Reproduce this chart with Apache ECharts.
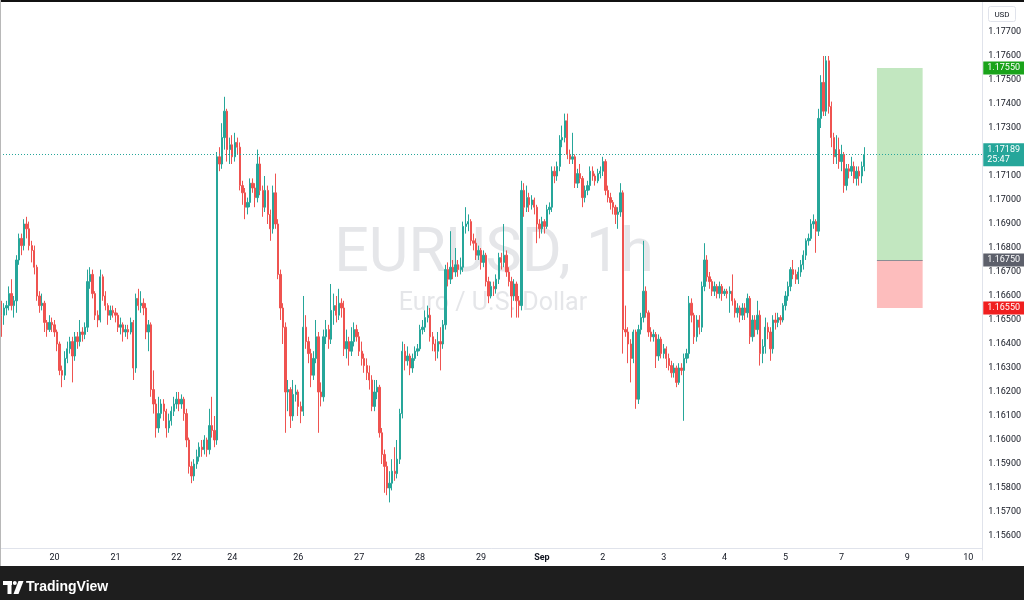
<!DOCTYPE html>
<html><head><meta charset="utf-8">
<script src="https://cdn.jsdelivr.net/npm/echarts@6/dist/echarts.min.js"></script>
<style>html,body{margin:0;padding:0;background:#fff;overflow:hidden}#c{width:1024px;height:600px}</style>
</head><body><div id="c"></div>
<script>
// Trading sessions: [day, first hour, last hour] (1h bars)
const sessions = [
  ['Aug 19',3,23],['Aug 20',0,23],['Aug 21',0,23],['Aug 22',0,21],['Aug 24',22,23],
  ['Aug 25',0,23],['Aug 26',0,23],['Aug 27',0,23],['Aug 28',0,23],['Aug 29',0,21],
  ['Aug 31',22,23],['Sep 1',0,23],['Sep 2',0,23],['Sep 3',0,23],['Sep 4',0,23],
  ['Sep 5',0,21],['Sep 7',22,23],['Sep 8',0,23],['Sep 9',0,23],['Sep 10',0,5]
];
const tickLabels = {'Aug 20':'20','Aug 21':'21','Aug 22':'22','Aug 24':'24','Aug 26':'26','Aug 27':'27',
  'Aug 28':'28','Aug 29':'29','Sep 1':'Sep','Sep 2':'2','Sep 3':'3','Sep 4':'4','Sep 5':'5','Sep 7':'7','Sep 9':'9','Sep 10':'10'};

// OHLC per day: [open, close, low, high]
const aug19 = [[1.1655,1.1652,1.1643,1.1658],[1.1652,1.1655,1.1648,1.1657],[1.1655,1.1656,1.1652,1.1658],[1.1656,1.1661,1.1654,1.1664],[1.1661,1.1656,1.1654,1.1667],[1.1656,1.1658,1.1651,1.1660],[1.1658,1.1675,1.1653,1.1677],[1.1675,1.1684,1.1673,1.1686],[1.1684,1.1681,1.1677,1.1686],[1.1681,1.1690,1.1679,1.1692],[1.1690,1.1688,1.1684,1.1693],[1.1688,1.1681,1.1679,1.1691],[1.1681,1.1679,1.1674,1.1683],[1.1679,1.1672,1.1669,1.1681],[1.1672,1.1660,1.1658,1.1673],[1.1660,1.1656,1.1653,1.1662],[1.1656,1.1657,1.1654,1.1661],[1.1657,1.1649,1.1645,1.1658],[1.1649,1.1646,1.1643,1.1650],[1.1646,1.1649,1.1645,1.1652],[1.1649,1.1648,1.1645,1.1651]];
const aug20 = [[1.1648,1.1645,1.1643,1.1650],[1.1645,1.1640,1.1637,1.1646],[1.1640,1.1629,1.1627,1.1641],[1.1629,1.1627,1.1622,1.1631],[1.1627,1.1634,1.1625,1.1637],[1.1634,1.1638,1.1632,1.1641],[1.1638,1.1641,1.1636,1.1643],[1.1641,1.1635,1.1624,1.1643],[1.1635,1.1643,1.1633,1.1645],[1.1643,1.1641,1.1638,1.1645],[1.1641,1.1645,1.1639,1.1650],[1.1645,1.1644,1.1641,1.1647],[1.1644,1.1647,1.1642,1.1649],[1.1647,1.1666,1.1645,1.1671],[1.1666,1.1669,1.1663,1.1672],[1.1669,1.1661,1.1659,1.1671],[1.1661,1.1652,1.1650,1.1662],[1.1652,1.1650,1.1647,1.1654],[1.1650,1.1668,1.1649,1.1671],[1.1668,1.1660,1.1658,1.1669],[1.1660,1.1656,1.1654,1.1662],[1.1656,1.1652,1.1648,1.1657],[1.1652,1.1654,1.1650,1.1656],[1.1654,1.1653,1.1651,1.1656]];
const aug21 = [[1.1653,1.1652,1.1649,1.1655],[1.1652,1.1647,1.1645,1.1653],[1.1647,1.1648,1.1644,1.1651],[1.1648,1.1645,1.1641,1.1649],[1.1645,1.1646,1.1643,1.1648],[1.1646,1.1645,1.1642,1.1648],[1.1645,1.1649,1.1644,1.1651],[1.1649,1.1630,1.1625,1.1650],[1.1630,1.1659,1.1628,1.1661],[1.1659,1.1656,1.1654,1.1663],[1.1656,1.1657,1.1653,1.1662],[1.1657,1.1655,1.1652,1.1659],[1.1655,1.1645,1.1642,1.1657],[1.1645,1.1648,1.1637,1.1650],[1.1648,1.1621,1.1618,1.1649],[1.1621,1.1615,1.1611,1.1629],[1.1615,1.1605,1.1601,1.1617],[1.1605,1.1611,1.1603,1.1618],[1.1611,1.1615,1.1609,1.1617],[1.1615,1.1612,1.1608,1.1617],[1.1612,1.1605,1.1601,1.1613],[1.1605,1.1608,1.1603,1.1611],[1.1608,1.1612,1.1606,1.1614],[1.1612,1.1615,1.1610,1.1618]];
const aug22 = [[1.1615,1.1617,1.1613,1.1620],[1.1617,1.1615,1.1612,1.1620],[1.1615,1.1617,1.1613,1.1619],[1.1617,1.1611,1.1608,1.1618],[1.1611,1.1600,1.1597,1.1613],[1.1600,1.1589,1.1586,1.1601],[1.1589,1.1585,1.1582,1.1591],[1.1585,1.1590,1.1583,1.1592],[1.1590,1.1593,1.1588,1.1596],[1.1593,1.1597,1.1591,1.1599],[1.1597,1.1596,1.1593,1.1600],[1.1596,1.1600,1.1594,1.1602],[1.1600,1.1596,1.1593,1.1601],[1.1596,1.1606,1.1594,1.1613],[1.1606,1.1604,1.1601,1.1618],[1.1604,1.1600,1.1597,1.1610],[1.1600,1.1718,1.1598,1.1720],[1.1718,1.1715,1.1712,1.1722],[1.1715,1.1726,1.1713,1.1732],[1.1726,1.1737,1.1721,1.1743],[1.1737,1.1721,1.1716,1.1738],[1.1721,1.1723,1.1715,1.1726]];
const aug24 = [[1.1723,1.1718,1.1715,1.1727],[1.1718,1.1724,1.1716,1.1728]];
const aug25 = [[1.1724,1.1722,1.1719,1.1726],[1.1722,1.1706,1.1704,1.1724],[1.1706,1.1703,1.1698,1.1708],[1.1703,1.1697,1.1692,1.1705],[1.1697,1.1699,1.1694,1.1701],[1.1699,1.1707,1.1697,1.1709],[1.1707,1.1705,1.1703,1.1709],[1.1705,1.1701,1.1697,1.1707],[1.1701,1.1715,1.1699,1.1721],[1.1715,1.1704,1.1702,1.1718],[1.1704,1.1697,1.1693,1.1706],[1.1697,1.1704,1.1695,1.1710],[1.1704,1.1694,1.1690,1.1706],[1.1694,1.1688,1.1683,1.1696],[1.1688,1.1703,1.1686,1.1706],[1.1703,1.1690,1.1688,1.1711],[1.1690,1.1669,1.1667,1.1692],[1.1669,1.1655,1.1650,1.1671],[1.1655,1.1647,1.1640,1.1657],[1.1647,1.1620,1.1603,1.1649],[1.1620,1.1621,1.1612,1.1625],[1.1621,1.1610,1.1605,1.1622],[1.1610,1.1619,1.1608,1.1625],[1.1619,1.1620,1.1616,1.1623]];
const aug26 = [[1.1620,1.1614,1.1610,1.1621],[1.1614,1.1612,1.1607,1.1616],[1.1612,1.1647,1.1610,1.1660],[1.1647,1.1641,1.1638,1.1652],[1.1641,1.1636,1.1632,1.1643],[1.1636,1.1627,1.1622,1.1638],[1.1627,1.1634,1.1625,1.1637],[1.1634,1.1643,1.1632,1.1650],[1.1643,1.1620,1.1603,1.1645],[1.1620,1.1618,1.1614,1.1624],[1.1618,1.1643,1.1616,1.1646],[1.1643,1.1646,1.1640,1.1650],[1.1646,1.1642,1.1638,1.1648],[1.1642,1.1654,1.1640,1.1665],[1.1654,1.1656,1.1648,1.1661],[1.1656,1.1652,1.1649,1.1660],[1.1652,1.1657,1.1650,1.1663],[1.1657,1.1655,1.1651,1.1659],[1.1655,1.1638,1.1635,1.1658],[1.1638,1.1641,1.1634,1.1646],[1.1641,1.1637,1.1631,1.1643],[1.1637,1.1641,1.1635,1.1647],[1.1641,1.1646,1.1639,1.1649],[1.1646,1.1643,1.1641,1.1648]];
const aug27 = [[1.1643,1.1637,1.1635,1.1645],[1.1637,1.1634,1.1631,1.1641],[1.1634,1.1631,1.1628,1.1636],[1.1631,1.1628,1.1625,1.1634],[1.1628,1.1625,1.1621,1.1631],[1.1625,1.1614,1.1612,1.1627],[1.1614,1.1620,1.1612,1.1625],[1.1620,1.1622,1.1617,1.1625],[1.1622,1.1603,1.1601,1.1623],[1.1603,1.1594,1.1590,1.1605],[1.1594,1.1589,1.1578,1.1596],[1.1589,1.1580,1.1577,1.1591],[1.1580,1.1582,1.1574,1.1587],[1.1582,1.1587,1.1579,1.1592],[1.1587,1.1586,1.1583,1.1597],[1.1586,1.1592,1.1584,1.1600],[1.1592,1.1611,1.1590,1.1613],[1.1611,1.1637,1.1609,1.1641],[1.1637,1.1633,1.1629,1.1640],[1.1633,1.1635,1.1631,1.1639],[1.1635,1.1630,1.1627,1.1636],[1.1630,1.1634,1.1628,1.1636],[1.1634,1.1637,1.1633,1.1639],[1.1637,1.1638,1.1635,1.1640]];
const aug28 = [[1.1638,1.1646,1.1637,1.1648],[1.1646,1.1647,1.1644,1.1650],[1.1647,1.1651,1.1645,1.1654],[1.1651,1.1652,1.1649,1.1656],[1.1652,1.1643,1.1641,1.1655],[1.1643,1.1640,1.1637,1.1645],[1.1640,1.1637,1.1633,1.1642],[1.1637,1.1641,1.1634,1.1645],[1.1641,1.1640,1.1629,1.1647],[1.1640,1.1648,1.1638,1.1650],[1.1648,1.1671,1.1646,1.1673],[1.1671,1.1667,1.1664,1.1674],[1.1667,1.1672,1.1665,1.1687],[1.1672,1.1670,1.1667,1.1675],[1.1670,1.1673,1.1668,1.1680],[1.1673,1.1671,1.1668,1.1675],[1.1671,1.1672,1.1669,1.1676],[1.1672,1.1689,1.1670,1.1691],[1.1689,1.1690,1.1686,1.1697],[1.1690,1.1691,1.1687,1.1694],[1.1691,1.1683,1.1681,1.1692],[1.1683,1.1682,1.1679,1.1686],[1.1682,1.1677,1.1675,1.1684],[1.1677,1.1679,1.1675,1.1681]];
const aug29 = [[1.1679,1.1674,1.1671,1.1680],[1.1674,1.1677,1.1672,1.1679],[1.1677,1.1666,1.1664,1.1678],[1.1666,1.1660,1.1657,1.1668],[1.1660,1.1664,1.1659,1.1666],[1.1664,1.1663,1.1660,1.1666],[1.1663,1.1667,1.1661,1.1669],[1.1667,1.1676,1.1665,1.1678],[1.1676,1.1674,1.1671,1.1678],[1.1674,1.1677,1.1672,1.1690],[1.1677,1.1670,1.1668,1.1679],[1.1670,1.1666,1.1664,1.1672],[1.1666,1.1660,1.1651,1.1668],[1.1660,1.1665,1.1658,1.1667],[1.1665,1.1658,1.1651,1.1666],[1.1658,1.1656,1.1651,1.1660],[1.1656,1.1704,1.1654,1.1708],[1.1704,1.1697,1.1693,1.1707],[1.1697,1.1701,1.1695,1.1706],[1.1701,1.1698,1.1695,1.1703],[1.1698,1.1700,1.1696,1.1702],[1.1700,1.1697,1.1694,1.1701]];
const aug31 = [[1.1697,1.1690,1.1682,1.1698],[1.1690,1.1688,1.1684,1.1692]];
const sep1 = [[1.1688,1.1691,1.1686,1.1693],[1.1691,1.1689,1.1686,1.1692],[1.1689,1.1696,1.1688,1.1698],[1.1696,1.1697,1.1694,1.1699],[1.1697,1.1712,1.1695,1.1714],[1.1712,1.1710,1.1707,1.1714],[1.1710,1.1714,1.1708,1.1716],[1.1714,1.1725,1.1712,1.1727],[1.1725,1.1726,1.1722,1.1731],[1.1726,1.1733,1.1724,1.1736],[1.1733,1.1719,1.1717,1.1736],[1.1719,1.1717,1.1715,1.1721],[1.1717,1.1718,1.1715,1.1728],[1.1718,1.1707,1.1705,1.1719],[1.1707,1.1711,1.1705,1.1713],[1.1711,1.1709,1.1707,1.1715],[1.1709,1.1701,1.1697,1.1710],[1.1701,1.1704,1.1699,1.1706],[1.1704,1.1706,1.1702,1.1708],[1.1706,1.1712,1.1704,1.1714],[1.1712,1.1710,1.1708,1.1714],[1.1710,1.1708,1.1706,1.1711],[1.1708,1.1711,1.1707,1.1713],[1.1711,1.1712,1.1709,1.1714]];
const sep2 = [[1.1712,1.1716,1.1710,1.1718],[1.1716,1.1704,1.1702,1.1717],[1.1704,1.1701,1.1699,1.1706],[1.1701,1.1699,1.1696,1.1703],[1.1699,1.1697,1.1694,1.1700],[1.1697,1.1694,1.1690,1.1698],[1.1694,1.1695,1.1688,1.1697],[1.1695,1.1703,1.1693,1.1707],[1.1703,1.1646,1.1636,1.1704],[1.1646,1.1645,1.1643,1.1656],[1.1645,1.1640,1.1632,1.1647],[1.1640,1.1634,1.1624,1.1642],[1.1634,1.1645,1.1632,1.1646],[1.1645,1.1617,1.1613,1.1646],[1.1617,1.1646,1.1615,1.1648],[1.1646,1.1651,1.1644,1.1653],[1.1651,1.1662,1.1649,1.1683],[1.1662,1.1653,1.1651,1.1664],[1.1653,1.1645,1.1643,1.1654],[1.1645,1.1643,1.1641,1.1647],[1.1643,1.1644,1.1641,1.1646],[1.1644,1.1635,1.1630,1.1645],[1.1635,1.1642,1.1633,1.1644],[1.1642,1.1636,1.1634,1.1643]];
const sep3 = [[1.1636,1.1638,1.1634,1.1640],[1.1638,1.1634,1.1630,1.1639],[1.1634,1.1631,1.1629,1.1636],[1.1631,1.1628,1.1626,1.1633],[1.1628,1.1630,1.1626,1.1632],[1.1630,1.1624,1.1622,1.1631],[1.1624,1.1630,1.1623,1.1632],[1.1630,1.1629,1.1627,1.1632],[1.1629,1.1634,1.1608,1.1636],[1.1634,1.1636,1.1632,1.1638],[1.1636,1.1657,1.1634,1.1660],[1.1657,1.1652,1.1649,1.1659],[1.1652,1.1643,1.1640,1.1653],[1.1643,1.1650,1.1641,1.1652],[1.1650,1.1647,1.1644,1.1652],[1.1647,1.1664,1.1645,1.1666],[1.1664,1.1675,1.1662,1.1682],[1.1675,1.1668,1.1666,1.1677],[1.1668,1.1666,1.1663,1.1670],[1.1666,1.1662,1.1660,1.1667],[1.1662,1.1664,1.1660,1.1666],[1.1664,1.1661,1.1659,1.1665],[1.1661,1.1664,1.1659,1.1666],[1.1664,1.1661,1.1658,1.1665]];
const sep4 = [[1.1661,1.1662,1.1660,1.1663],[1.1662,1.1661,1.1659,1.1663],[1.1661,1.1662,1.1653,1.1664],[1.1662,1.1658,1.1656,1.1669],[1.1658,1.1653,1.1651,1.1659],[1.1653,1.1655,1.1651,1.1657],[1.1655,1.1652,1.1649,1.1656],[1.1652,1.1655,1.1650,1.1657],[1.1655,1.1653,1.1650,1.1657],[1.1653,1.1659,1.1651,1.1661],[1.1659,1.1643,1.1640,1.1660],[1.1643,1.1650,1.1641,1.1652],[1.1650,1.1646,1.1643,1.1652],[1.1646,1.1652,1.1644,1.1658],[1.1652,1.1636,1.1631,1.1654],[1.1636,1.1639,1.1632,1.1642],[1.1639,1.1647,1.1636,1.1651],[1.1647,1.1645,1.1642,1.1649],[1.1645,1.1638,1.1633,1.1647],[1.1638,1.1650,1.1636,1.1652],[1.1650,1.1649,1.1646,1.1653],[1.1649,1.1651,1.1647,1.1653],[1.1651,1.1650,1.1648,1.1652],[1.1650,1.1656,1.1649,1.1657]];
const sep5 = [[1.1656,1.1660,1.1654,1.1662],[1.1660,1.1664,1.1658,1.1666],[1.1664,1.1671,1.1662,1.1672],[1.1671,1.1669,1.1667,1.1675],[1.1669,1.1667,1.1665,1.1671],[1.1667,1.1670,1.1665,1.1672],[1.1670,1.1673,1.1668,1.1675],[1.1673,1.1677,1.1671,1.1679],[1.1677,1.1683,1.1675,1.1684],[1.1683,1.1684,1.1681,1.1686],[1.1684,1.1690,1.1683,1.1692],[1.1690,1.1691,1.1688,1.1694],[1.1691,1.1687,1.1678,1.1692],[1.1687,1.1734,1.1685,1.1738],[1.1734,1.1749,1.1730,1.1752],[1.1749,1.1737,1.1735,1.1760],[1.1737,1.1758,1.1735,1.1760],[1.1758,1.1739,1.1736,1.1760],[1.1739,1.1726,1.1722,1.1741],[1.1726,1.1718,1.1715,1.1728],[1.1718,1.1721,1.1715,1.1727],[1.1721,1.1716,1.1713,1.1726]];
const sep7 = [[1.1716,1.1719,1.1712,1.1723],[1.1719,1.1706,1.1703,1.1720]];
const sep8 = [[1.1706,1.1713,1.1704,1.1715],[1.1713,1.1712,1.1709,1.1715],[1.1712,1.1714,1.1710,1.1718],[1.1714,1.1709,1.1707,1.1716],[1.1709,1.1712,1.1706,1.1714],[1.1712,1.1710,1.1706,1.1714],[1.1710,1.1714,1.1707,1.1716],[1.1714,1.17189,1.1712,1.1722]];

// Position tool & price tags
const lastPrice = 1.17189;
const countdown = '25:47';
const entryPrice = 1.1675;
const targetPrice = 1.1755;
const stopPrice = 1.1655;
const positionFrom = 'Sep 8 12:00';
const positionTo = 'Sep 9 06:00';
// price axis range and step
const priceMin = 1.155;
const priceMax = 1.1783333;
const priceStep = 0.001;

const categories = [];
const firstBarDay = {};
sessions.forEach(([d, h0, h1]) => {
  for (let h = h0; h <= h1; h++) {
    if (h === h0) firstBarDay[categories.length] = d;
    categories.push(d + ' ' + String(h).padStart(2, '0') + ':00');
  }
});
const candles = [].concat(aug19, aug20, aug21, aug22, aug24, aug25, aug26, aug27, aug28, aug29, aug31, sep1, sep2, sep3, sep4, sep5, sep7, sep8);

const FONT = 'Roboto, "Liberation Sans", sans-serif';
const tag = (bg) => ({show: true, position: 'end', distance: 1, backgroundColor: bg, color: '#fff',
  fontSize: 9, fontFamily: FONT, padding: [2, 4, 1, 4], lineHeight: 10,
  formatter: p => Number(p.value).toFixed(5)});

const chart = echarts.init(document.getElementById('c'), null, {renderer: 'canvas'});
chart.setOption({
  animation: false,
  backgroundColor: '#ffffff',
  grid: {left: 0, right: 40, top: 0, bottom: 40},
  xAxis: {
    type: 'category', data: categories, boundaryGap: true, offset: -12,
    axisLine: {show: true, lineStyle: {color: '#e0e3eb'}},
    axisTick: {show: false}, splitLine: {show: false},
    axisLabel: {
      interval: (i) => firstBarDay[i] !== undefined && tickLabels[firstBarDay[i]] !== undefined,
      formatter: (v) => { const d = v.slice(0, v.lastIndexOf(' ')); const t = tickLabels[d] || ''; return t === 'Sep' ? '{b|Sep}' : t; },
      color: '#131722', fontSize: 9, fontFamily: FONT, margin: 5,
      rich: {b: {fontWeight: 'bold', fontSize: 9, color: '#131722', fontFamily: FONT}}
    }
  },
  yAxis: {
    type: 'value', position: 'right', min: priceMin, max: priceMax, interval: priceStep,
    axisLine: {show: true, lineStyle: {color: '#e0e3eb'}},
    axisTick: {show: false}, splitLine: {show: false},
    axisLabel: {color: '#131722', fontSize: 9, fontFamily: FONT, margin: 6, showMaxLabel: false,
      formatter: v => (v > 1.1555 && v < 1.1775) ? v.toFixed(5) : ''}
  },
  series: [{
    type: 'candlestick', data: candles, barWidth: '72%',
    itemStyle: {color: '#26a69a', color0: '#ef5350', borderColor: '#26a69a', borderColor0: '#ef5350', borderWidth: 1},
    markArea: {silent: true, data: [
      [{xAxis: positionFrom, yAxis: entryPrice, itemStyle: {color: '#c2e7c0'}}, {xAxis: positionTo, yAxis: targetPrice}],
      [{xAxis: positionFrom, yAxis: stopPrice, itemStyle: {color: '#fdbdbd'}}, {xAxis: positionTo, yAxis: entryPrice}]
    ]},
    markLine: {silent: true, precision: 5, symbol: ['none', 'none'], animation: false, data: [
      [{coord: [positionFrom, entryPrice], lineStyle: {color: '#8a8d94', width: 1, type: 'solid'}, label: {show: false}},
       {coord: [positionTo, entryPrice]}],
      {yAxis: targetPrice, lineStyle: {color: 'rgba(0,0,0,0)', width: 0}, label: tag('#1aa31a')},
      {yAxis: entryPrice, lineStyle: {color: 'rgba(0,0,0,0)', width: 0}, label: tag('#5d606b')},
      {yAxis: stopPrice, lineStyle: {color: 'rgba(0,0,0,0)', width: 0}, label: tag('#f01f1f')},
      {yAxis: lastPrice, lineStyle: {color: '#26a69a', width: 1, type: [1, 2]},
        label: Object.assign(tag('#26a69a'), {formatter: p => Number(p.value).toFixed(5) + '\n' + countdown})}
    ]}
  }],
  graphic: [
    {type: 'text', z: 0, silent: true, x: 494, y: 256,
      style: {text: 'EURUSD, 1h', font: '61px Roboto', fill: '#e5e6e9', textAlign: 'center', textVerticalAlign: 'middle', align: 'center', verticalAlign: 'middle'}},
    {type: 'text', z: 0, silent: true, x: 493, y: 304,
      style: {text: 'Euro / U.S. Dollar', font: '25px Roboto', fill: '#e5e6e9', textAlign: 'center', textVerticalAlign: 'middle', align: 'center', verticalAlign: 'middle'}},
    {type: 'rect', z: 100, silent: true, shape: {x: 0, y: 0, width: 1024, height: 2}, style: {fill: '#111'}},
    {type: 'rect', z: 100, silent: true, shape: {x: 0, y: 0, width: 1, height: 566}, style: {fill: '#b8b8b8'}},
    {type: 'rect', z: 100, silent: true, shape: {x: 0, y: 566, width: 1024, height: 34}, style: {fill: '#1e1e1e'}},
    {type: 'rect', z: 100, silent: true, shape: {x: 988.5, y: 6.5, width: 27, height: 15, r: 2}, style: {fill: '#fff', stroke: '#e0e3eb', lineWidth: 1}},
    {type: 'text', z: 101, silent: true, x: 1002, y: 14.5, style: {text: 'USD', font: '8px Roboto', fill: '#131722', textAlign: 'center', textVerticalAlign: 'middle', align: 'center', verticalAlign: 'middle'}},
    {type: 'rect', z: 101, silent: true, shape: {x: 3, y: 581, width: 9, height: 4}, style: {fill: '#fff'}},
    {type: 'rect', z: 101, silent: true, shape: {x: 7.5, y: 581, width: 4, height: 13}, style: {fill: '#fff'}},
    {type: 'circle', z: 101, silent: true, shape: {cx: 14.8, cy: 583, r: 2}, style: {fill: '#fff'}},
    {type: 'polygon', z: 101, silent: true, shape: {points: [[18.5, 581], [23.5, 581], [18.5, 594], [13.5, 594]]}, style: {fill: '#fff'}},
    {type: 'text', z: 101, silent: true, x: 26, y: 587.5, style: {text: 'TradingView', font: 'bold 14px "Liberation Sans", Roboto', fill: '#fff', textAlign: 'left', textVerticalAlign: 'middle', align: 'left', verticalAlign: 'middle'}}
  ]
});
</script></body></html>
